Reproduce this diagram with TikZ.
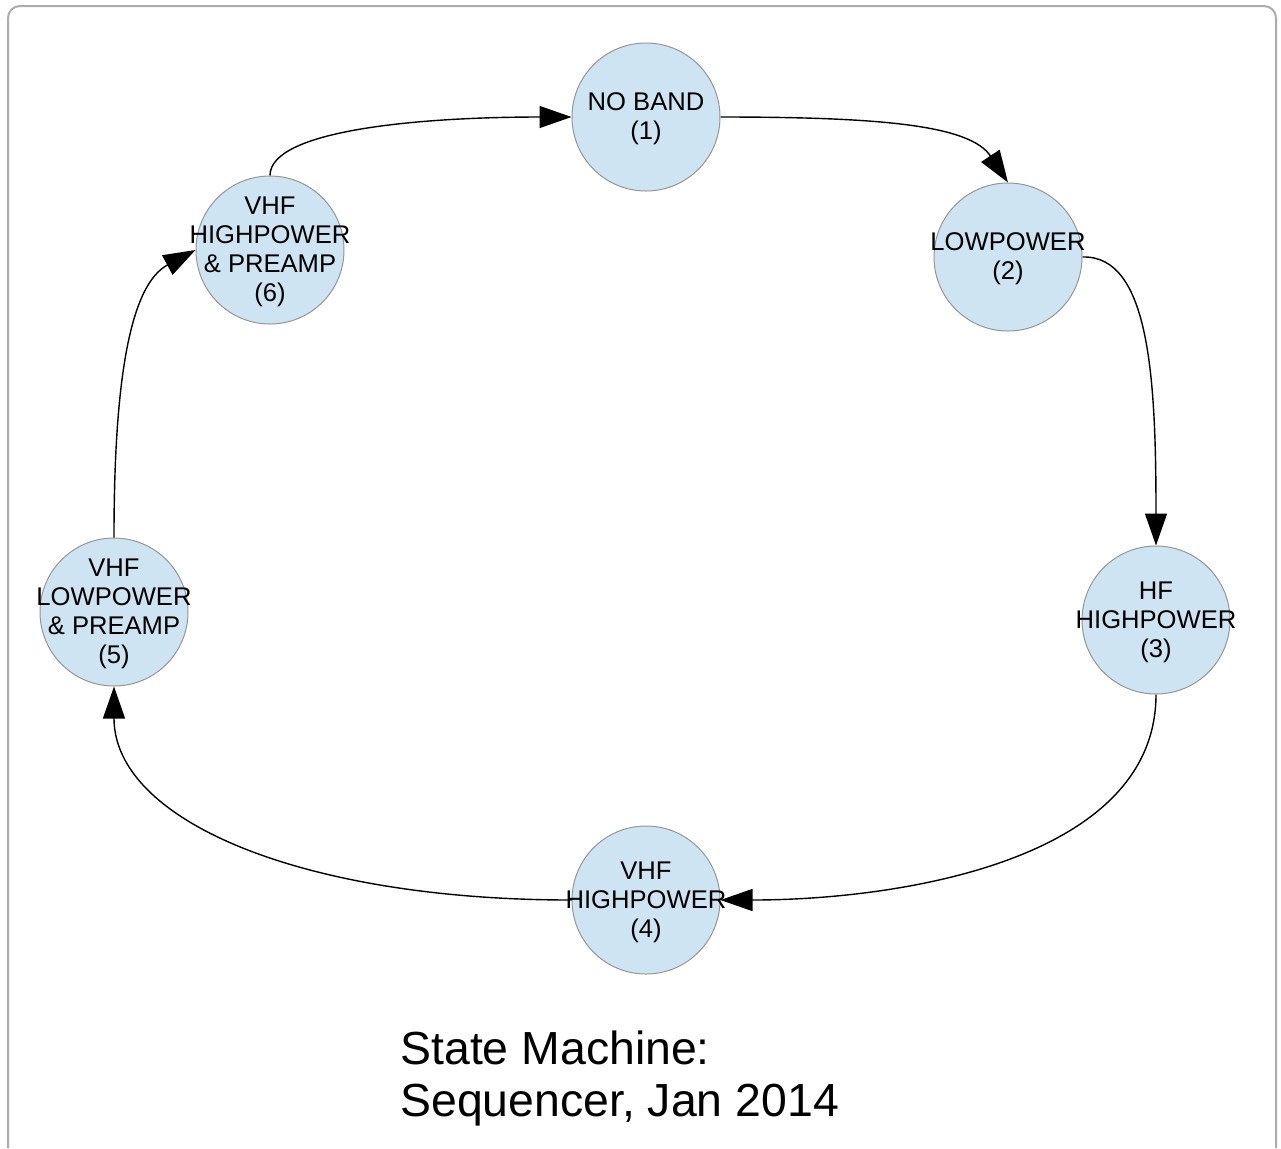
\documentclass[tikz,border=0pt]{standalone}
\usepackage{fontspec}
\setmainfont{Liberation Sans}
\usetikzlibrary{arrows.meta}
\definecolor{statefill}{RGB}{207,228,243}
\definecolor{stateline}{RGB}{150,150,150}
\definecolor{frameline}{RGB}{172,172,176}

\begin{document}
\begin{tikzpicture}[x=0.5pt,y=-0.5pt,
  bandstate/.style={circle,draw=stateline,fill=statefill,line width=0.5pt,
    minimum size=74pt,inner sep=0pt,
    label={[align=center,inner sep=0pt,yshift=-1pt,font=\fontsize{12.8}{14.5}\selectfont]center:#1}},
  link/.style={->,line width=0.7pt},
  >={Triangle[length=16pt,width=11pt]}]
\useasboundingbox (0,0) rectangle (1281,1148);
\draw[frameline,line width=1pt,rounded corners=6pt] (8,1148) -- (8,6) -- (1276,6) -- (1276,1148);

\node[bandstate={NO BAND\\(1)}] (s1) at (646,117) {};
\node[bandstate={LOWPOWER\\(2)}] (s2) at (1008,257) {};
\node[bandstate={HF\\HIGHPOWER\\(3)}] (s3) at (1156,620) {};
\node[bandstate={VHF\\HIGHPOWER\\(4)}] (s4) at (646,900) {};
\node[bandstate={VHF\\LOWPOWER\\\& PREAMP\\(5)}] (s5) at (114,612) {};
\node[bandstate={VHF\\HIGHPOWER\\\& PREAMP\\(6)}] (s6) at (270,250) {};

\draw[link] (s1.east) .. controls (880,117) and (970,125) .. (s2.north);
\draw[link] (s2.east) .. controls (1150,255) and (1156,380) .. (s3.north);
\draw[link] (s3.south) .. controls (1156,860) and (900,900) .. (s4.east);
\draw[link] (s4.west) .. controls (300,900) and (114,820) .. (s5.south);
\draw[link] (s5.north) .. controls (114,380) and (130,285) .. (s6.west);
\draw[link] (s6.north) .. controls (270,130) and (420,117) .. (s1.west);

\node[anchor=north west,inner sep=0pt,align=left,font=\fontsize{23.2}{26}\selectfont]
  (title) at (400,1030) {State Machine:\\Sequencer, Jan 2014};
\end{tikzpicture}
\end{document}
